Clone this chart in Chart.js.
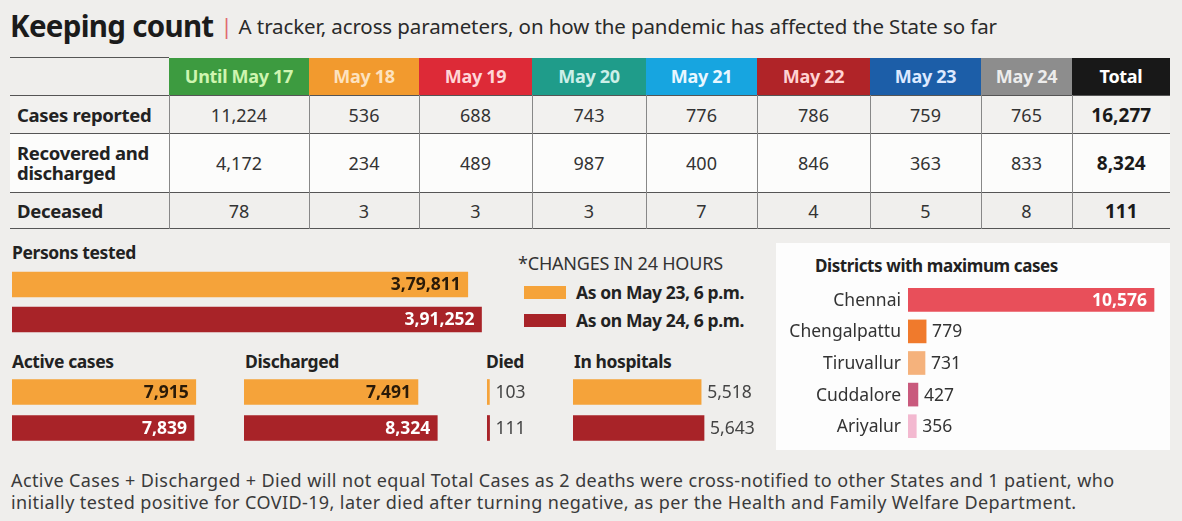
<!DOCTYPE html>
<html>
<head>
<meta charset="utf-8">
<script src="https://cdn.jsdelivr.net/npm/chart.js@4"></script>
<style>
  html, body { margin: 0; padding: 0; }
  body {
    width: 1182px; height: 521px; position: relative; overflow: hidden;
    background: #efeeec; font-family: "Noto Sans", sans-serif; color: #222;
  }
  .abs { position: absolute; white-space: nowrap; }
  #title { left: 10px; top: 5px; font-size: 29.5px; font-weight: 700; color: #1b1b1b; letter-spacing: -0.7px; }
  #title .sep { color: #e06a70; font-weight: 400; font-size: 22px; margin: 0 6px 0 7px; position: relative; top: -3px; letter-spacing: 0; }
  #title .sub { font-size: 20.5px; font-weight: 400; color: #2a2a2a; letter-spacing: -0.1px; position: relative; top: -3px; }
  table { position: absolute; left: 10px; top: 57px; border-collapse: collapse; table-layout: fixed; width: 1160px; }
  td, th { padding: 0; text-align: center; font-size: 18px; color: #333; }
  th { height: 37px; font-weight: 700; font-size: 18px; letter-spacing: -0.3px; }
  th.blank { background: transparent; border-top: 1.5px solid #555; }
  tbody tr { border-top: 1.5px solid #555; }
  tbody tr:last-child { border-bottom: 1.5px solid #555; }
  tbody td { border-left: 1px solid #888; }
  tbody td:first-child { border-left: none; text-align: left; font-weight: 700; font-size: 18.5px; color: #222; padding-left: 7px; line-height: 20px; letter-spacing: -0.3px; }
  tbody td.total { font-weight: 700; color: #1a1a1a; font-size: 19px; }
  .lbl { font-size: 17.5px; font-weight: 700; color: #222; letter-spacing: -0.4px; }
  canvas { position: absolute; }
  #legend .head { font-size: 18px; color: #333; margin-bottom: 3px; letter-spacing: -0.2px; }
  #legend .item { display: flex; align-items: center; height: 28px; font-size: 17.5px; font-weight: 700; color: #222; letter-spacing: -0.4px; }
  #legend .sw { width: 42px; height: 13px; margin: 0 10px 0 6px; }
  #distBox { left: 776px; top: 243px; width: 394px; height: 207px; background: #fdfdfd; }
  #footer { left: 11px; top: 469px; font-size: 18px; line-height: 22px; color: #3a3a3a; letter-spacing: 0.4px; }
</style>
</head>
<body>
<div id="title" class="abs">Keeping count<span class="sep">|</span><span class="sub">A tracker, across parameters, on how the pandemic has affected the State so far</span></div>

<table id="tracker"></table>

<div class="abs lbl" style="left:12px; top:240px;">Persons tested</div>
<canvas id="personsChart" width="490" height="70" style="left:12px; top:267px;"></canvas>

<div id="legend" class="abs" style="left:518px; top:251px;"></div>

<div class="abs lbl" style="left:12px; top:349px;">Active cases</div>
<div class="abs lbl" style="left:245px; top:349px;">Discharged</div>
<div class="abs lbl" style="left:486px; top:349px;">Died</div>
<div class="abs lbl" style="left:574px; top:349px;">In hospitals</div>
<canvas id="activeChart" width="220" height="72" style="left:12px; top:374px;"></canvas>
<canvas id="dischargedChart" width="230" height="72" style="left:244px; top:374px;"></canvas>
<canvas id="diedChart" width="70" height="72" style="left:487px; top:374px;"></canvas>
<canvas id="hospitalChart" width="200" height="72" style="left:573px; top:374px;"></canvas>

<div id="distBox" class="abs"></div>
<div class="abs lbl" style="left:815px; top:254px; font-size:17px;">Districts with maximum cases</div>
<canvas id="districtChart" width="392" height="158" style="left:776px; top:284px;"></canvas>

<div id="footer" class="abs">Active Cases + Discharged + Died will not equal Total Cases as 2 deaths were cross-notified to other States and 1 patient, who<br>initially tested positive for COVID-19, later died after turning negative, as per the Health and Family Welfare Department.</div>

<script>
// table data
const dayLabels = ["Until May 17", "May 18", "May 19", "May 20", "May 21", "May 22", "May 23", "May 24", "Total"];
const rowLabels = ["Cases reported", "Recovered and<br>discharged", "Deceased"];
const casesReported = [11224, 536, 688, 743, 776, 786, 759, 765, 16277];
const recoveredDischarged = [4172, 234, 489, 987, 400, 846, 363, 833, 8324];
const deceased = [78, 3, 3, 3, 7, 4, 5, 8, 111];

// 24 hour comparison data
const snapshotLabels = ["As on May 23, 6 p.m.", "As on May 24, 6 p.m."];
const personsTested = [379811, 391252];
const activeCases = [7915, 7839];
const discharged = [7491, 8324];
const died = [103, 111];
const inHospitals = [5518, 5643];

// districts
const districts = ["Chennai", "Chengalpattu", "Tiruvallur", "Cuddalore", "Ariyalur"];
const districtCases = [10576, 779, 731, 427, 356];

const headColors = ["#3d9b40", "#f29a2e", "#dd2a37", "#1f9c8a", "#17a5e0", "#b02428", "#1c5ea8", "#8d8d8d", "#181818"];
const headText = ["#cff5b0", "#fde2bf", "#ffd6d8", "#cdefe8", "#e8f7ff", "#ffd3d3", "#dde9ff", "#ececec", "#ffffff"];
const colWidths = [159, 140, 110, 113, 114, 111, 113, 111, 91, 98];
const rowHeights = [38, 59, 36];
const ORANGE = "#f5a33a";
const RED = "#a82328";

// Indian style digit grouping: 3,79,811
function fmt(n) {
  const s = String(n);
  if (s.length <= 3) return s;
  const last3 = s.slice(-3);
  const rest = s.slice(0, -3).replace(/\B(?=(\d{2})+(?!\d))/g, ",");
  return rest + "," + last3;
}

// build the table
const table = document.getElementById("tracker");
let html = "<colgroup>" + colWidths.map(w => `<col style="width:${w}px">`).join("") + "</colgroup>";
html += "<thead><tr><th class='blank'></th>" + dayLabels.map((d, i) =>
  `<th style="background:${headColors[i]};color:${headText[i]}">${d}</th>`).join("") + "</tr></thead><tbody>";
const rowBg = ["#f2f1ef", "#fcfcfb", "#f0efed"];
[casesReported, recoveredDischarged, deceased].forEach((row, r) => {
  html += `<tr style="height:${rowHeights[r]}px;background:${rowBg[r]}"><td>${rowLabels[r]}</td>` +
    row.map((v, i) => `<td class="${i === row.length - 1 ? "total" : ""}">${fmt(v)}</td>`).join("") + "</tr>";
});
html += "</tbody>";
table.innerHTML = html;

// legend
const legend = document.getElementById("legend");
legend.innerHTML = `<div class="head">*CHANGES IN 24 HOURS</div>` +
  snapshotLabels.map((l, i) => `<div class="item"><span class="sw" style="background:${i ? RED : ORANGE}"></span>${l}</div>`).join("");

// draws the numbers at the bar ends (and category names if asked)
const valueLabels = {
  id: "valueLabels",
  afterDatasetsDraw(chart, args, opts) {
    const ctx = chart.ctx;
    const meta = chart.getDatasetMeta(0);
    const data = chart.data.datasets[0].data;
    meta.data.forEach((bar, i) => {
      ctx.save();
      ctx.textBaseline = "middle";
      if (opts.catFont) {
        ctx.font = opts.catFont;
        ctx.fillStyle = "#333";
        ctx.textAlign = "right";
        ctx.fillText(chart.data.labels[i], bar.base - 7, bar.y + 1);
      }
      ctx.font = opts.fonts[i];
      ctx.fillStyle = opts.colors[i];
      if (opts.inside[i]) {
        ctx.textAlign = "right";
        ctx.fillText(fmt(data[i]), bar.x - 7, bar.y + 1);
      } else {
        ctx.textAlign = "left";
        ctx.fillText(fmt(data[i]), bar.x + 6, bar.y + 1);
      }
      ctx.restore();
    });
  }
};

function hbar(id, labels, values, colors, pxPerUnit, thickness, labelOpts, leftPad) {
  const canvas = document.getElementById(id);
  const pad = leftPad || 0;
  return new Chart(canvas, {
    type: "bar",
    data: {
      labels: labels,
      datasets: [{ data: values, backgroundColor: colors, barThickness: thickness, borderWidth: 0 }]
    },
    options: {
      indexAxis: "y",
      responsive: false,
      animation: false,
      layout: { padding: { left: pad, right: 0, top: 0, bottom: 0 } },
      plugins: { legend: { display: false }, tooltip: { enabled: false }, valueLabels: labelOpts },
      scales: {
        x: { display: false, min: 0, max: (canvas.width - pad) / pxPerUnit },
        y: { display: false }
      }
    },
    plugins: [valueLabels]
  });
}

const boldF = "700 17.5px 'Noto Sans'";
const regF = "400 17.5px 'Noto Sans'";
const SMALL = 0.02322;

hbar("personsChart", snapshotLabels, personsTested, [ORANGE, RED], 0.0012, 25,
  { inside: [true, true], fonts: [boldF, boldF], colors: ["#2a1a08", "#ffffff"] });
hbar("activeChart", snapshotLabels, activeCases, [ORANGE, RED], SMALL, 25,
  { inside: [true, true], fonts: [boldF, boldF], colors: ["#2a1a08", "#ffffff"] });
hbar("dischargedChart", snapshotLabels, discharged, [ORANGE, RED], SMALL, 25,
  { inside: [true, true], fonts: [boldF, boldF], colors: ["#2a1a08", "#ffffff"] });
hbar("diedChart", snapshotLabels, died, [ORANGE, RED], SMALL, 25,
  { inside: [false, false], fonts: [regF, regF], colors: ["#444", "#444"] });
hbar("hospitalChart", snapshotLabels, inHospitals, [ORANGE, RED], SMALL, 25,
  { inside: [false, false], fonts: [regF, regF], colors: ["#444", "#444"] });

hbar("districtChart", districts, districtCases,
  ["#e84f5a", "#f07a2c", "#f5b27c", "#c95a7d", "#f3b9d0"], 246 / 10576, 23,
  { inside: [true, false, false, false, false],
    fonts: [boldF, regF, regF, regF, regF],
    colors: ["#ffffff", "#333", "#333", "#333", "#333"],
    catFont: "400 17.5px 'Noto Sans'" },
  132);
</script>
</body>
</html>
